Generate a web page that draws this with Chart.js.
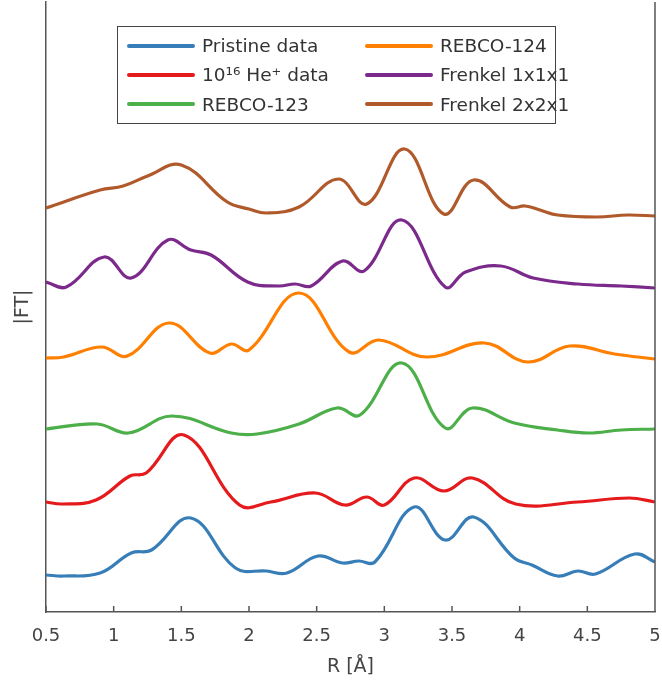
<!DOCTYPE html>
<html>
<head>
<meta charset="utf-8">
<script src="https://cdn.jsdelivr.net/npm/chart.js@4.4.1/dist/chart.umd.min.js"></script>
<style>
  html, body { margin: 0; padding: 0; background: #fff; }
  #wrap { position: relative; width: 662px; height: 688px; }
  #legend {
    position: absolute; left: 117px; top: 26px; width: 439px; height: 98px;
    border: 1.5px solid #444; background: #fff; box-sizing: border-box;
    display: grid; grid-template-rows: repeat(3, 1fr); grid-auto-flow: column;
    grid-template-columns: 238px 1fr; padding: 4px 0 4px 9px;
    font-family: "DejaVu Sans", sans-serif; font-size: 18.5px; color: #333;
  }
  .item { display: flex; align-items: center; white-space: nowrap; }
  .swatch { width: 68px; height: 4px; margin-right: 7px; border-radius: 2px; }
</style>
</head>
<body>
<div id="wrap">
  <canvas id="ftChart" width="662" height="688"></canvas>
  <div id="legend"></div>
</div>
<script>
// x ticks (R in Angstrom)
const rTicks = [0.5, 1, 1.5, 2, 2.5, 3, 3.5, 4, 4.5, 5];

// |FT| curves, stacked with vertical offsets (arbitrary units)
const pristineR  = [0.5, 0.63, 0.9, 1.13, 1.28, 1.57, 1.9, 2.13, 2.28, 2.51, 2.69, 2.81, 2.93, 3.22, 3.45, 3.66, 3.96, 4.09, 4.28, 4.43, 4.56, 4.85, 5.0];
const pristineFT = [0.37, 0.36, 0.39, 0.59, 0.62, 0.94, 0.44, 0.41, 0.39, 0.56, 0.49, 0.51, 0.50, 1.05, 0.72, 0.95, 0.54, 0.47, 0.36, 0.41, 0.38, 0.58, 0.50];

const heR  = [0.5, 0.62, 0.87, 1.12, 1.24, 1.52, 1.93, 2.16, 2.49, 2.71, 2.87, 3.0, 3.22, 3.44, 3.65, 3.97, 4.43, 4.81, 5.0];
const heFT = [1.10, 1.08, 1.12, 1.36, 1.39, 1.77, 1.07, 1.10, 1.19, 1.07, 1.15, 1.07, 1.34, 1.21, 1.34, 1.08, 1.10, 1.14, 1.10];

const r123R  = [0.5, 0.88, 1.11, 1.43, 1.87, 2.06, 2.37, 2.65, 2.82, 3.13, 3.45, 3.65, 3.96, 4.28, 4.51, 4.75, 5.0];
const r123FT = [1.83, 1.88, 1.79, 1.96, 1.79, 1.78, 1.88, 2.04, 1.97, 2.49, 1.84, 2.04, 1.89, 1.82, 1.79, 1.82, 1.83];

const r124R  = [0.5, 0.63, 0.91, 1.1, 1.41, 1.71, 1.87, 2.0, 2.37, 2.74, 2.96, 3.31, 3.74, 4.06, 4.37, 4.7, 5.0];
const r124FT = [2.54, 2.55, 2.65, 2.56, 2.89, 2.59, 2.68, 2.62, 3.19, 2.60, 2.72, 2.55, 2.69, 2.50, 2.66, 2.58, 2.53];

const f111R  = [0.5, 0.65, 0.93, 1.13, 1.4, 1.57, 1.72, 1.99, 2.22, 2.34, 2.46, 2.69, 2.85, 3.13, 3.45, 3.6, 3.86, 4.1, 4.43, 4.75, 5.0];
const f111FT = [3.30, 3.25, 3.55, 3.34, 3.72, 3.62, 3.57, 3.30, 3.26, 3.28, 3.26, 3.51, 3.41, 3.92, 3.25, 3.40, 3.46, 3.34, 3.28, 3.26, 3.24];

const f221R  = [0.5, 0.9, 1.07, 1.25, 1.5, 1.84, 2.0, 2.13, 2.37, 2.66, 2.87, 3.15, 3.44, 3.66, 3.93, 4.04, 4.15, 4.28, 4.57, 4.8, 5.0];
const f221FT = [4.04, 4.22, 4.26, 4.36, 4.47, 4.10, 4.03, 3.99, 4.05, 4.33, 4.08, 4.63, 3.98, 4.32, 4.05, 4.06, 4.02, 3.97, 3.95, 3.97, 3.96];

const seriesNames  = ['Pristine data', '10\u00B9\u2076 He\u207A data', 'REBCO-123', 'REBCO-124', 'Frenkel 1x1x1', 'Frenkel 2x2x1'];
const seriesColors = ['#377eb8', '#e41a1c', '#4daf4a', '#ff7f00', '#7b2a8c', '#b05a2c'];
const seriesR  = [pristineR, heR, r123R, r124R, f111R, f221R];
const seriesFT = [pristineFT, heFT, r123FT, r124FT, f111FT, f221FT];

const datasets = seriesNames.map((name, i) => ({
  label: name,
  data: seriesR[i].map((r, j) => ({ x: r, y: seriesFT[i][j] })),
  borderColor: seriesColors[i],
  borderWidth: 3.2,
  pointRadius: 0,
  tension: 0.4,
  fill: false
}));

// legend box, two columns
const legendEl = document.getElementById('legend');
seriesNames.forEach((name, i) => {
  const item = document.createElement('div');
  item.className = 'item';
  item.innerHTML = '<span class="swatch" style="background:' + seriesColors[i] + '"></span>';
  item.appendChild(document.createTextNode(name));
  legendEl.appendChild(item);
});

// inward ticks on the bottom axis plus right frame line
const frame = {
  id: 'frame',
  afterDraw(chart) {
    const { ctx, chartArea: a, scales } = chart;
    ctx.save();
    ctx.strokeStyle = '#555';
    ctx.lineWidth = 1.5;
    ctx.beginPath();
    ctx.moveTo(a.right, a.top);
    ctx.lineTo(a.right, a.bottom);
    rTicks.forEach(t => {
      const px = scales.x.getPixelForValue(t);
      ctx.moveTo(px, a.bottom);
      ctx.lineTo(px, a.bottom - 6);
    });
    ctx.stroke();
    ctx.restore();
  }
};

const tickFont = { family: 'DejaVu Sans', size: 18 };

new Chart(document.getElementById('ftChart'), {
  type: 'line',
  data: { datasets },
  options: {
    responsive: false,
    animation: false,
    layout: { padding: { top: 2, right: 7, left: 0, bottom: 0 } },
    plugins: { legend: { display: false }, tooltip: { enabled: false } },
    scales: {
      x: {
        type: 'linear', min: 0.5, max: 5,
        afterBuildTicks: s => { s.ticks = rTicks.map(v => ({ value: v })); },
        afterFit: s => { s.height = 76; s.paddingLeft = 0; s.paddingRight = 0; },
        grid: { display: false, drawTicks: false },
        border: { display: true, color: '#555', width: 1.5 },
        ticks: { color: '#444', font: tickFont, padding: 14, maxRotation: 0, autoSkip: false, callback: v => String(v) },
        title: { display: true, text: 'R [\u00C5]', color: '#444', font: { family: 'DejaVu Sans', size: 19 }, padding: { top: 0, bottom: 10 } }
      },
      y: {
        min: 0, max: 6.1,
        afterFit: s => { s.width = 46; },
        grid: { display: false, drawTicks: false },
        border: { display: true, color: '#555', width: 1.5 },
        ticks: { display: false },
        title: { display: true, text: '|FT|', color: '#444', font: { family: 'DejaVu Sans', size: 19 }, padding: { top: 12, bottom: 0 } }
      }
    }
  },
  plugins: [frame]
});
</script>
</body>
</html>
